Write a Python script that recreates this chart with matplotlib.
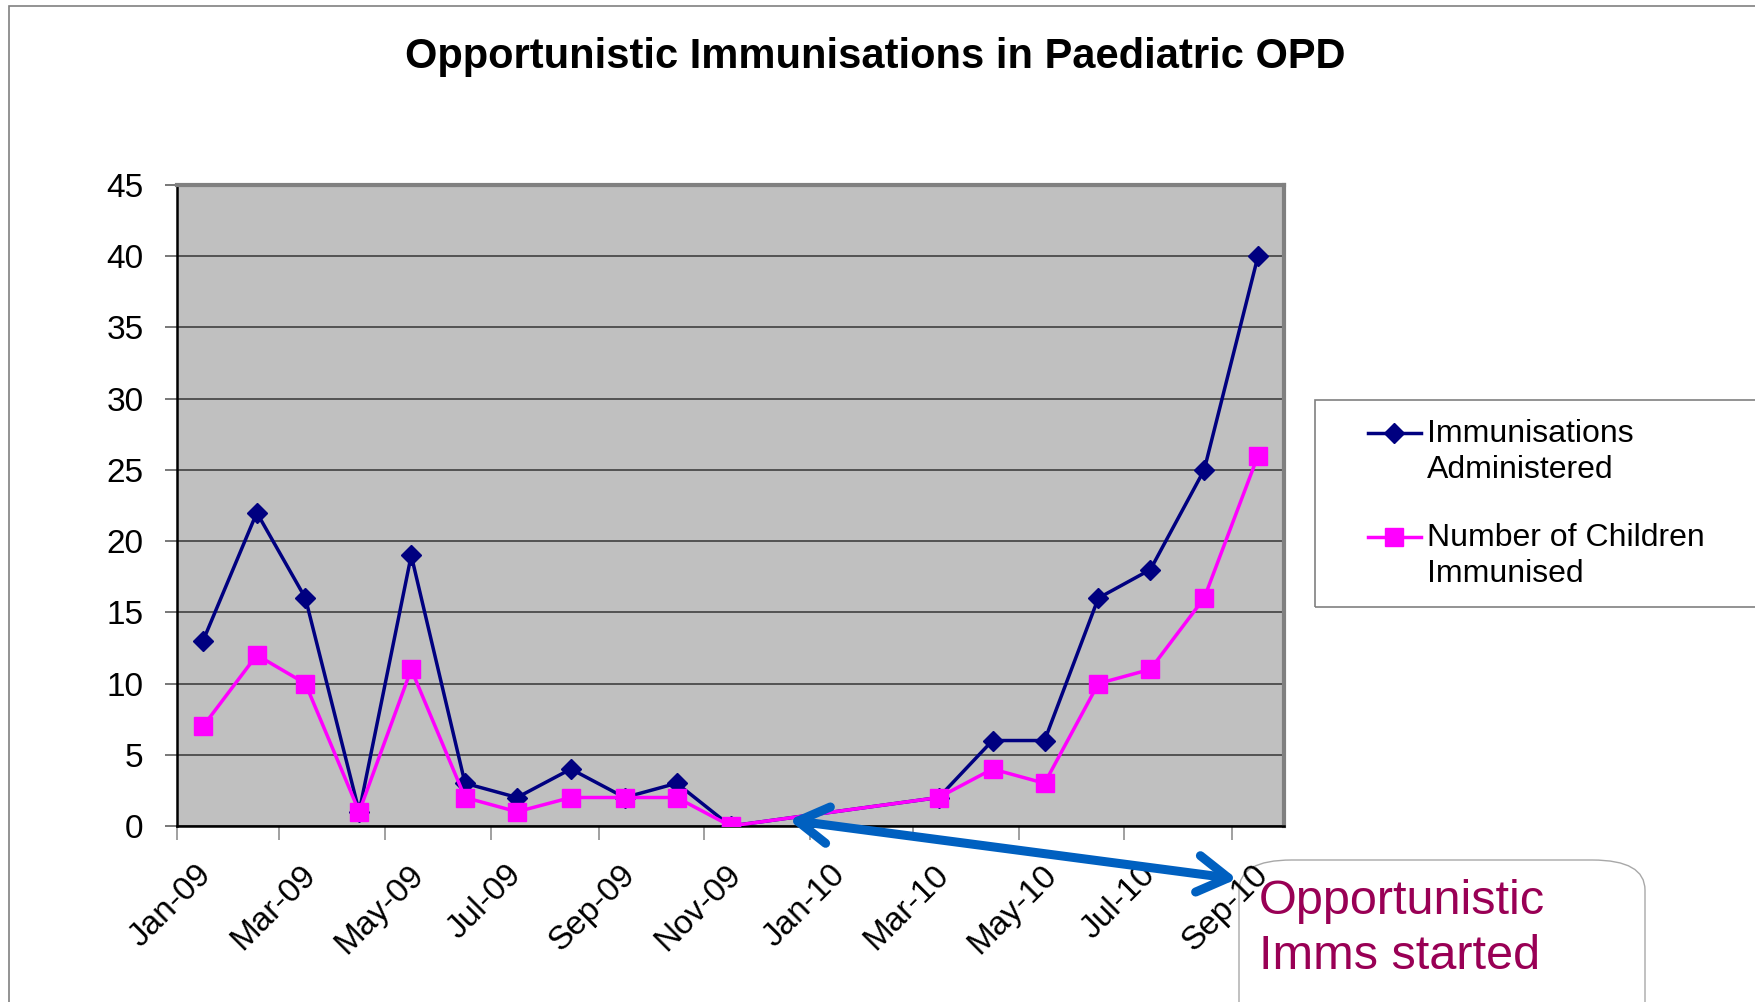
import matplotlib
matplotlib.use("Agg")
import matplotlib.pyplot as plt
import matplotlib.dates as mdates
import matplotlib.transforms as mtransforms
from matplotlib.patches import Rectangle, FancyBboxPatch, FancyArrowPatch
from matplotlib.lines import Line2D
import pandas as pd

# monthly figures (no data for Dec-09 .. Feb-10)
months = ["2009-01", "2009-02", "2009-03", "2009-04", "2009-05", "2009-06",
          "2009-07", "2009-08", "2009-09", "2009-10", "2009-11",
          "2010-03", "2010-04", "2010-05", "2010-06", "2010-07", "2010-08", "2010-09"]
imms_given = [13, 22, 16, 1, 19, 3, 2, 4, 2, 3, 0, 2, 6, 6, 16, 18, 25, 40]
children = [7, 12, 10, 1, 11, 2, 1, 2, 2, 2, 0, 2, 4, 3, 10, 11, 16, 26]
labels = ["Immunisations\nAdministered", "Number of Children\nImmunised"]

plt.rcParams["font.family"] = ["Liberation Sans", "DejaVu Sans"]

# points sit in the middle of each month, like excel's date axis
x = pd.to_datetime(months) + pd.Timedelta(days=15)

W, H = 1755, 1002
fig = plt.figure(figsize=(W / 100, H / 100), dpi=100)
ax = fig.add_axes([177 / W, 1 - 826 / H, 1107 / W, 641 / H])
ax.set_facecolor("#C0C0C0")

navy = "#000080"
pink = "#FF00FF"
ax.plot(x, imms_given, color=navy, lw=2.5, marker="D", markersize=10, zorder=4)
ax.plot(x, children, color=pink, lw=2.5, marker="s", markersize=13, zorder=5)

ax.set_ylim(0, 45)
ax.set_yticks(range(0, 46, 5))
ax.yaxis.grid(True, color="#4A4A4A", lw=1.3)
ax.set_axisbelow(True)

ax.set_xlim(pd.Timestamp("2009-01-01"), pd.Timestamp("2010-10-01"))
ax.xaxis.set_major_locator(mdates.MonthLocator(bymonth=[1, 3, 5, 7, 9, 11]))
ax.xaxis.set_major_formatter(mdates.DateFormatter("%b-%y"))

ax.tick_params(axis="y", labelsize=24, length=9, width=1.2, color="#606060", pad=15)
ax.tick_params(axis="x", labelsize=24, length=10, width=1.2, color="#909090", pad=14)
shift = mtransforms.ScaledTranslation(-6 / 100, 0, fig.dpi_scale_trans)
for lab in ax.get_xticklabels():
    lab.set_rotation(45)
    lab.set_ha("center")
    lab.set_va("top")
    lab.set_transform(lab.get_transform() + shift)

for side in ["top", "right"]:
    ax.spines[side].set_color("#808080")
    ax.spines[side].set_linewidth(3)
for side in ["left", "bottom"]:
    ax.spines[side].set_color("black")
    ax.spines[side].set_linewidth(1.8)

fig.text(875 / W, 1 - 57 / H, "Opportunistic Immunisations in Paediatric OPD",
         ha="center", va="center", fontsize=30, fontweight="bold")

# outer chart border (only top and left edges are visible)
fig.patches.append(Rectangle((9 / W, -0.1), 1.2, 1.1 - 6 / H, transform=fig.transFigure,
                             fill=False, ec="#808080", lw=1.2))

# legend box, runs off the right edge
fig.patches.append(Rectangle((1315 / W, 1 - 607 / H), 0.4, 207 / H, transform=fig.transFigure,
                             fill=False, ec="#808080", lw=1.2))
for (col, mk, ms, lab, ytop) in [(navy, "D", 10, labels[0], 433), (pink, "s", 13, labels[1], 537)]:
    fig.lines.append(Line2D([1368 / W, 1421 / W], [1 - ytop / H] * 2, transform=fig.transFigure,
                            color=col, lw=2.5))
    fig.lines.append(Line2D([1394 / W], [1 - ytop / H], transform=fig.transFigure,
                            color=col, marker=mk, markersize=ms))
    fig.text(1427 / W, 1 - (ytop + 19) / H, lab, ha="left", va="center",
             fontsize=23, linespacing=1.25)

# callout box sits behind the axes so the Sep-10 label stays readable
box = FancyBboxPatch((1239 / W, -0.2), 406 / W, 0.2 + 1 - 860 / H, transform=fig.transFigure,
                     boxstyle="round,pad=0,rounding_size=0.03", fc="white", ec="#A8A8A8",
                     lw=1.0, zorder=-1)
fig.patches.append(box)
fig.text(1259 / W, 1 - 929 / H, "Opportunistic\nImms started", ha="left", va="center",
         fontsize=35, color="#990055", linespacing=1.3, zorder=11)

fig.add_artist(FancyArrowPatch(
    (789 / W, 1 - 820 / H), (1237 / W, 1 - 879 / H), transform=fig.transFigure,
    arrowstyle="<->,head_length=1.0,head_width=0.6", mutation_scale=22,
    color="#0060C0", lw=6.5, shrinkA=0, shrinkB=0, zorder=12))

fig.savefig("out.png", dpi=100)
